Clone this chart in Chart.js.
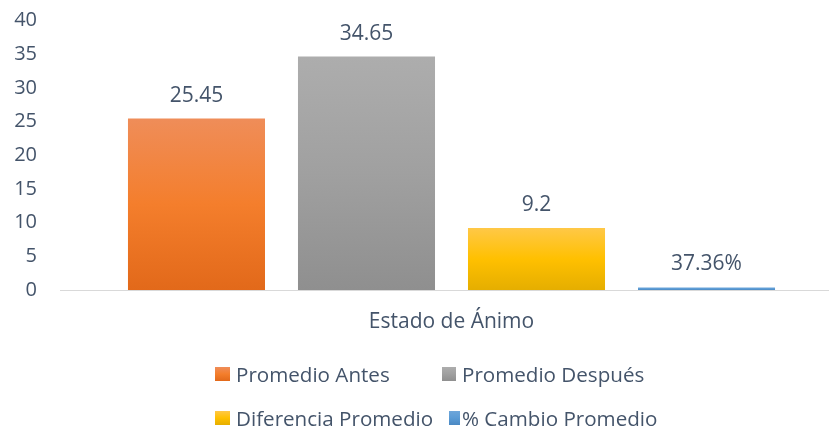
<!DOCTYPE html>
<html>
<head>
<meta charset="utf-8">
<script src="https://cdn.jsdelivr.net/npm/chart.js@4.4.1/dist/chart.umd.min.js"></script>
<style>
  html, body { margin: 0; padding: 0; background: #fff; overflow: hidden; }
  #wrap { width: 850px; height: 430px; position: relative; }
</style>
</head>
<body>
<div id="wrap"><canvas id="c" width="850" height="430"></canvas></div>
<script>
// ---- data ----
const categories = ['Estado de Ánimo'];
const seriesNames = ['Promedio Antes', 'Promedio Después', 'Diferencia Promedio', '% Cambio Promedio'];
const promedioAntes = [25.45];
const promedioDespues = [34.65];
const diferenciaPromedio = [9.2];
const cambioPromedio = [0.3736];
const yTickMin = 0;
const yTickMax = 40;
const yTickStep = 5;

// ---- styles ----
const TEXT = '#44546A';
const FONT = '"Open Sans", sans-serif';
const gradStops = [
  ['#EF8D59', '#F47E2C', '#E2691A'],
  ['#ADADAD', '#A0A0A0', '#8F8F8F'],
  ['#FFC847', '#FFC000', '#E5AE00'],
  ['#6EA6DA', '#5B9BD5', '#4A88C2']
];
const percentSeries = [false, false, false, true];

function makeGrad(ctx, top, bottom, stops) {
  if (!isFinite(top) || !isFinite(bottom) || Math.abs(bottom - top) < 0.5) return stops[1];
  const g = ctx.createLinearGradient(0, top, 0, bottom);
  g.addColorStop(0, stops[0]);
  g.addColorStop(0.5, stops[1]);
  g.addColorStop(1, stops[2]);
  return g;
}

function barFill(i) {
  return function (c) {
    const chart = c.chart;
    const ys = chart.scales && chart.scales.y;
    if (!ys || !chart.chartArea) return gradStops[i][1];
    const v = c.raw;
    const top = ys.getPixelForValue(v);
    const bot = ys.getPixelForValue(0);
    return makeGrad(chart.ctx, top, bot, gradStops[i]);
  };
}

const seriesData = [promedioAntes, promedioDespues, diferenciaPromedio, cambioPromedio];

const datasets = seriesNames.map((name, i) => ({
  label: name,
  data: seriesData[i],
  backgroundColor: barFill(i),
  borderWidth: 0,
  categoryPercentage: 0.8685,
  barPercentage: 0.806
}));

function fmt(v, pct) {
  return pct ? (v * 100).toFixed(2) + '%' : String(v);
}

const valueLabels = {
  id: 'valueLabels',
  afterDatasetsDraw(chart) {
    const ctx = chart.ctx;
    ctx.save();
    ctx.font = '21px ' + FONT;
    ctx.fillStyle = TEXT;
    ctx.textAlign = 'center';
    ctx.textBaseline = 'alphabetic';
    chart.data.datasets.forEach((ds, i) => {
      const meta = chart.getDatasetMeta(i);
      meta.data.forEach((el, j) => {
        ctx.fillText(fmt(ds.data[j], percentSeries[i]), el.x, el.y - 17);
      });
    });
    ctx.restore();
  }
};

// legend layout (positions only)
const legendLayout = [
  { bx: 215, bw: 15, tx: 236, base: 382 },
  { bx: 442, bw: 14, tx: 462, base: 382 },
  { bx: 215, bw: 15, tx: 236, base: 426 },
  { bx: 449, bw: 11, tx: 462, base: 426 }
];

const customLegend = {
  id: 'customLegend',
  afterDraw(chart) {
    const ctx = chart.ctx;
    ctx.save();
    ctx.font = '20.6px ' + FONT;
    ctx.fillStyle = TEXT;
    ctx.textAlign = 'left';
    ctx.textBaseline = 'alphabetic';
    chart.data.datasets.forEach((ds, i) => {
      const L = legendLayout[i];
      const top = L.base - 15, bot = L.base - 1;
      ctx.fillStyle = makeGrad(ctx, top, bot, gradStops[i]);
      ctx.fillRect(L.bx, top, L.bw, bot - top);
      ctx.fillStyle = TEXT;
      ctx.fillText(ds.label, L.tx, L.base);
    });
    ctx.restore();
  }
};

new Chart(document.getElementById('c'), {
  type: 'bar',
  data: { labels: categories, datasets },
  options: {
    responsive: false,
    devicePixelRatio: 1,
    animation: false,
    layout: { padding: { top: 20.5, right: 7, left: 0, bottom: 0 } },
    plugins: {
      legend: { display: false },
      tooltip: { enabled: false }
    },
    scales: {
      x: {
        grid: { display: false },
        border: { display: true, color: '#D9D9D9', width: 1 },
        ticks: { color: TEXT, font: { family: FONT, size: 21 }, padding: 11 },
        afterFit(s) { s.height = 140; s.paddingLeft = 0; s.paddingRight = 0; }
      },
      y: {
        min: yTickMin,
        max: yTickMax,
        grid: { display: false },
        border: { display: false },
        ticks: { stepSize: yTickStep, color: TEXT, font: { family: FONT, size: 20 }, padding: 15 },
        afterFit(s) { s.width = 60; s.paddingTop = 0; s.paddingBottom = 0; }
      }
    }
  },
  plugins: [valueLabels, customLegend]
});
</script>
</body>
</html>
